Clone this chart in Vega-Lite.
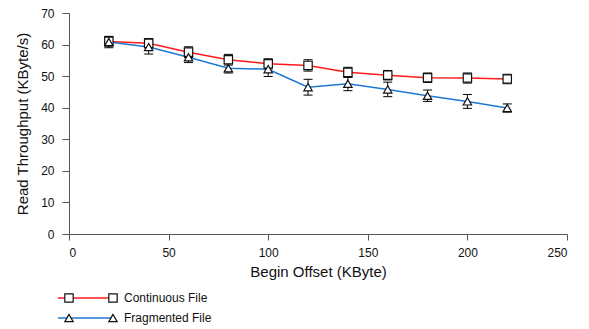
{
  "$schema": "https://vega.github.io/schema/vega-lite/v6.json",
  "padding": {"left": 15, "top": 7, "right": 5, "bottom": 0},
  "spacing": 12,
  "config": {
    "font": "Liberation Sans",
    "view": {"stroke": null},
    "axis": {"domainColor": "#555", "tickColor": "#555", "labelColor": "#111", "titleColor": "#111", "labelFontSize": 12, "titleFontSize": 15, "titleFontWeight": "normal", "grid": false}
  },
  "datasets": {
    "main": [
      {"series": "Continuous File", "x": 20, "y": 61.0, "lo": 59.5, "hi": 62.5},
      {"series": "Continuous File", "x": 40, "y": 60.4, "lo": 58.9, "hi": 61.9},
      {"series": "Continuous File", "x": 60, "y": 57.6, "lo": 55.9, "hi": 59.3},
      {"series": "Continuous File", "x": 80, "y": 55.2, "lo": 53.5, "hi": 56.9},
      {"series": "Continuous File", "x": 100, "y": 53.9, "lo": 52.3, "hi": 55.5},
      {"series": "Continuous File", "x": 120, "y": 53.4, "lo": 51.6, "hi": 55.2},
      {"series": "Continuous File", "x": 140, "y": 51.2, "lo": 49.6, "hi": 52.8},
      {"series": "Continuous File", "x": 160, "y": 50.3, "lo": 48.8, "hi": 51.8},
      {"series": "Continuous File", "x": 180, "y": 49.5, "lo": 48.0, "hi": 51.0},
      {"series": "Continuous File", "x": 200, "y": 49.4, "lo": 47.8, "hi": 51.0},
      {"series": "Continuous File", "x": 220, "y": 49.1, "lo": 47.6, "hi": 50.6},
      {"series": "Fragmented File", "x": 20, "y": 60.8, "lo": 59.0, "hi": 62.6},
      {"series": "Fragmented File", "x": 40, "y": 59.2, "lo": 57.0, "hi": 61.4},
      {"series": "Fragmented File", "x": 60, "y": 56.0, "lo": 54.3, "hi": 57.7},
      {"series": "Fragmented File", "x": 80, "y": 52.5, "lo": 51.0, "hi": 54.0},
      {"series": "Fragmented File", "x": 100, "y": 52.2, "lo": 49.9, "hi": 54.5},
      {"series": "Fragmented File", "x": 120, "y": 46.5, "lo": 44.0, "hi": 49.0},
      {"series": "Fragmented File", "x": 140, "y": 47.6, "lo": 45.4, "hi": 49.8},
      {"series": "Fragmented File", "x": 160, "y": 45.8, "lo": 43.5, "hi": 48.1},
      {"series": "Fragmented File", "x": 180, "y": 43.8, "lo": 42.0, "hi": 45.6},
      {"series": "Fragmented File", "x": 200, "y": 42.0, "lo": 39.8, "hi": 44.2},
      {"series": "Fragmented File", "x": 220, "y": 39.9, "lo": 38.6, "hi": 41.2}
    ],
    "legend": [
      {"series": "Continuous File", "lx": -0.25, "role": "line"},
      {"series": "Continuous File", "lx": 1, "role": "line"},
      {"series": "Continuous File", "lx": 0, "role": "point"},
      {"series": "Continuous File", "lx": 1, "role": "point"},
      {"series": "Continuous File", "lx": 1, "role": "label"},
      {"series": "Fragmented File", "lx": -0.25, "role": "line"},
      {"series": "Fragmented File", "lx": 1, "role": "line"},
      {"series": "Fragmented File", "lx": 0, "role": "point"},
      {"series": "Fragmented File", "lx": 1, "role": "point"},
      {"series": "Fragmented File", "lx": 1, "role": "label"}
    ]
  },
  "vconcat": [
    {
      "width": 498,
      "height": 221,
      "data": {"name": "main"},
      "encoding": {
        "x": {"field": "x", "type": "quantitative", "scale": {"domain": [0, 250]},
              "axis": {"title": "Begin Offset (KByte)", "values": [0, 50, 100, 150, 200, 250], "tickSize": 6, "labelPadding": 7, "titlePadding": 6}}
      },
      "layer": [
        {
          "mark": {"type": "line", "strokeWidth": 1.5},
          "encoding": {
            "y": {"field": "y", "type": "quantitative", "scale": {"domain": [0, 70]},
                  "axis": {"title": "Read Throughput (KByte/s)", "values": [0, 10, 20, 30, 40, 50, 60, 70], "tickSize": 7, "labelPadding": 8, "titlePadding": 10}},
            "color": {"field": "series", "type": "nominal", "scale": {"domain": ["Continuous File", "Fragmented File"], "range": ["#ff1a1a", "#1e78d2"]}, "legend": null}
          }
        },
        {
          "mark": {"type": "rule", "color": "#000", "strokeWidth": 1},
          "encoding": {
            "y": {"field": "lo", "type": "quantitative",
                  "axis": {"title": "Read Throughput (KByte/s)", "values": [0, 10, 20, 30, 40, 50, 60, 70], "tickSize": 7, "labelPadding": 8, "titlePadding": 10}},
            "y2": {"field": "hi"}
          }
        },
        {
          "mark": {"type": "tick", "orient": "horizontal", "color": "#000", "size": 9, "thickness": 1, "opacity": 1},
          "encoding": {"y": {"field": "lo", "type": "quantitative",
                  "axis": {"title": "Read Throughput (KByte/s)", "values": [0, 10, 20, 30, 40, 50, 60, 70], "tickSize": 7, "labelPadding": 8, "titlePadding": 10}}}
        },
        {
          "mark": {"type": "tick", "orient": "horizontal", "color": "#000", "size": 9, "thickness": 1, "opacity": 1},
          "encoding": {"y": {"field": "hi", "type": "quantitative",
                  "axis": {"title": "Read Throughput (KByte/s)", "values": [0, 10, 20, 30, 40, 50, 60, 70], "tickSize": 7, "labelPadding": 8, "titlePadding": 10}}}
        },
        {
          "mark": {"type": "point", "filled": true, "fill": "white", "stroke": "#111", "strokeWidth": 1.2, "opacity": 1, "size": 70},
          "encoding": {
            "y": {"field": "y", "type": "quantitative",
                  "axis": {"title": "Read Throughput (KByte/s)", "values": [0, 10, 20, 30, 40, 50, 60, 70], "tickSize": 7, "labelPadding": 8, "titlePadding": 10}},
            "shape": {"field": "series", "type": "nominal", "scale": {"domain": ["Continuous File", "Fragmented File"], "range": ["square", "triangle-up"]}, "legend": null}
          }
        }
      ]
    },
    {
      "width": 200,
      "height": 30,
      "data": {"name": "legend"},
      "encoding": {
        "x": {"field": "lx", "type": "quantitative", "scale": {"domain": [0, 4.5454]}, "axis": null},
        "y": {"field": "series", "type": "nominal", "scale": {"type": "point", "padding": 0.25}, "axis": null}
      },
      "layer": [
        {
          "transform": [{"filter": "datum.role === 'line'"}],
          "mark": {"type": "line", "strokeWidth": 1.5},
          "encoding": {
            "color": {"field": "series", "type": "nominal", "scale": {"domain": ["Continuous File", "Fragmented File"], "range": ["#ff1a1a", "#1e78d2"]}, "legend": null}
          }
        },
        {
          "transform": [{"filter": "datum.role === 'point'"}],
          "mark": {"type": "point", "filled": true, "fill": "white", "stroke": "#111", "strokeWidth": 1.2, "opacity": 1, "size": 70},
          "encoding": {
            "shape": {"field": "series", "type": "nominal", "scale": {"domain": ["Continuous File", "Fragmented File"], "range": ["square", "triangle-up"]}, "legend": null}
          }
        },
        {
          "transform": [{"filter": "datum.role === 'label'"}],
          "mark": {"type": "text", "align": "left", "baseline": "middle", "dx": 11, "fontSize": 12, "color": "#111"},
          "encoding": {"text": {"field": "series"}}
        }
      ]
    }
  ]
}
